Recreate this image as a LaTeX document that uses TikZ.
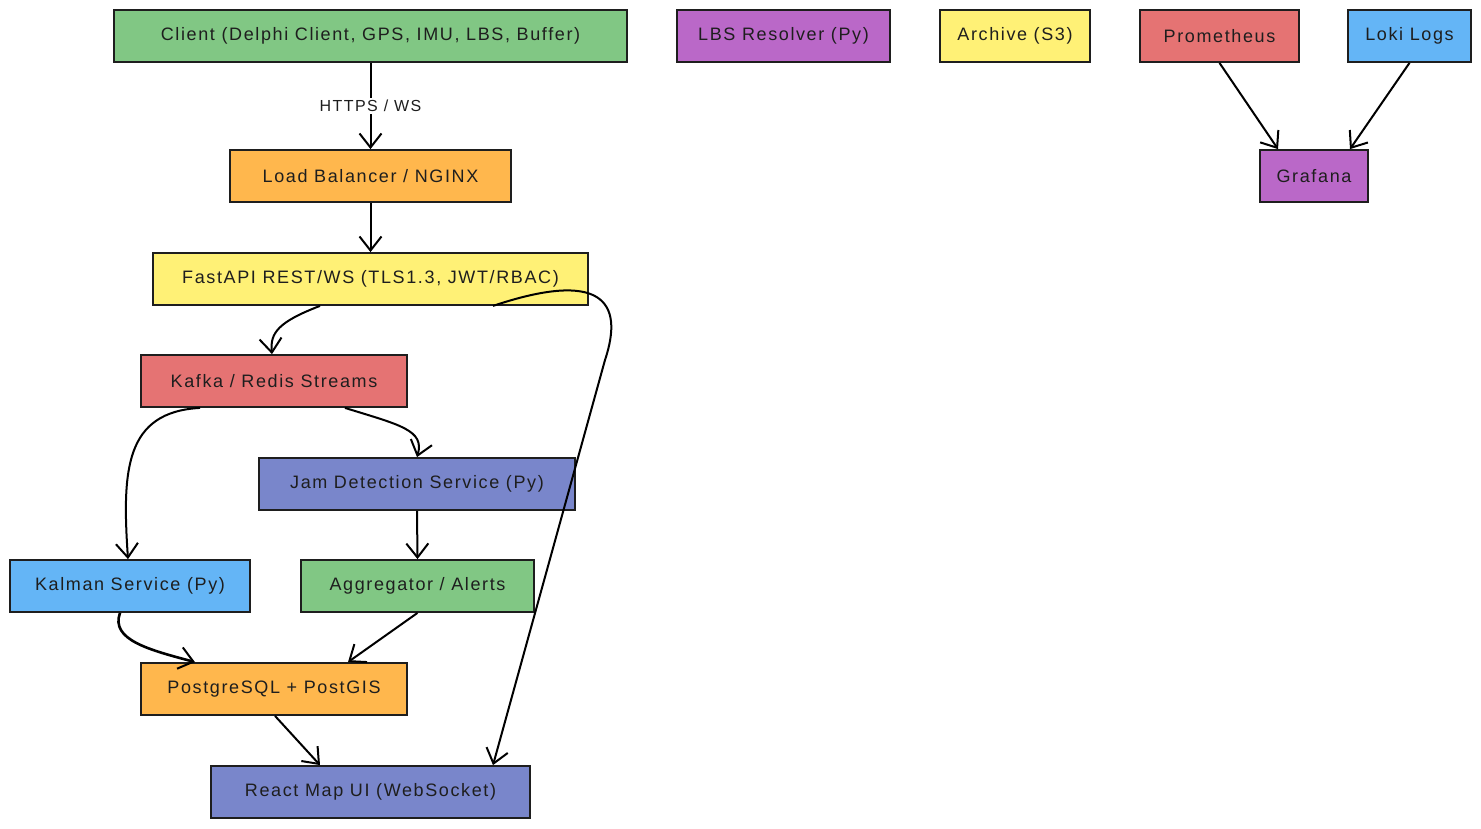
\documentclass[tikz,border=0pt]{standalone}
\usepackage{fontspec}
\setmainfont{Liberation Sans}[LetterSpace=9]
\usetikzlibrary{arrows.meta}
\definecolor{cgreen}{HTML}{81C784}
\definecolor{cpurple}{HTML}{BA68C8}
\definecolor{cyellow}{HTML}{FFF176}
\definecolor{cred}{HTML}{E57373}
\definecolor{cblue}{HTML}{64B5F6}
\definecolor{corange}{HTML}{FFB74D}
\definecolor{cindigo}{HTML}{7986CB}
\definecolor{ink}{HTML}{1E1E1E}
\tikzset{
  box/.style={draw=ink, line width=1.8pt, rectangle, inner sep=0pt, minimum height=52pt, font=\fontsize{18}{21}\selectfont, text=ink},
  conn/.style={draw=black, line width=2pt, -{Straight Barb[length=14pt, width=22pt, line width=2pt]}},
}
\begin{document}
\begin{tikzpicture}[x=1pt, y=-1pt]
\useasboundingbox (0,0) rectangle (1481,828);
% nodes
\node[box, fill=cgreen, minimum width=513pt] (cl) at (370.5,36) {Client (Delphi Client, GPS, IMU, LBS, Buffer)};
\node[box, fill=cpurple, minimum width=213pt] (lbs) at (783.5,36) {LBS Resolver (Py)};
\node[box, fill=cyellow, minimum width=150pt] (ar) at (1015,36) {Archive (S3)};
\node[box, fill=cred, minimum width=159pt] (pr) at (1219.5,36) {Prometheus};
\node[box, fill=cblue, minimum width=123pt] (lk) at (1409.5,36) {Loki Logs};
\node[box, fill=cpurple, minimum width=108pt] (gr) at (1314,176) {Grafana};
\node[box, fill=corange, minimum width=281pt] (lb) at (370.5,176) {Load Balancer / NGINX};
\node[box, fill=cyellow, minimum width=435pt] (fa) at (370.5,279) {FastAPI REST/WS (TLS1.3, JWT/RBAC)};
\node[box, fill=cred, minimum width=266pt] (kf) at (274,381) {Kafka / Redis Streams};
\node[box, fill=cindigo, minimum width=316pt] (jd) at (417,484) {Jam Detection Service (Py)};
\node[box, fill=cblue, minimum width=240pt] (km) at (130,586) {Kalman Service (Py)};
\node[box, fill=cgreen, minimum width=233pt] (ag) at (417.5,586) {Aggregator / Alerts};
\node[box, fill=corange, minimum width=266pt] (pg) at (274,689) {PostgreSQL + PostGIS};
\node[box, fill=cindigo, minimum width=319pt] (rm) at (370.5,792) {React Map UI (WebSocket)};
% connectors
\draw[conn] (cl.south) -- node[fill=white, inner sep=2pt, font=\fontsize{16}{19}\selectfont, text=ink] {HTTPS / WS} (lb.north);
\draw[conn] (lb.south) -- (fa.north);
\draw[conn] ([xshift=-50.5pt]fa.south) .. controls (278,322) and (270,333) .. ([xshift=-2pt]kf.north);
\draw[conn] ([xshift=-74pt]kf.south) .. controls (125,412) and (122,470) .. ([xshift=-2pt]km.north);
\draw[conn] ([xshift=71pt]kf.south) .. controls (400,425) and (425,430) .. (jd.north);
\draw[conn] (jd.south) -- (ag.north);
\draw[conn, line width=2.6pt] ([xshift=-10pt]km.south) .. controls (110,640) and (150,650) .. ([xshift=-79pt]pg.north);
\draw[conn] (ag.south) -- ([xshift=74pt]pg.north);
\draw[conn] ([xshift=1pt]pg.south) -- ([xshift=-50.5pt]rm.north);
\draw[conn] ([xshift=122.5pt]fa.south) .. controls (600,270) and (625,300) .. (605,360) -- ([xshift=122.5pt]rm.north);
\draw[conn] (pr.south) -- ([xshift=-36pt]gr.north);
\draw[conn] (lk.south) -- ([xshift=36pt]gr.north);
\end{tikzpicture}
\end{document}
